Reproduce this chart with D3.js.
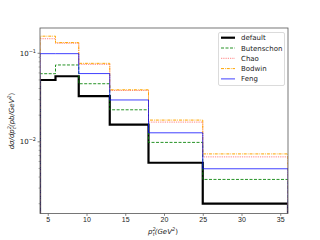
<!DOCTYPE html>
<html><head><meta charset="utf-8">
<script src="https://cdn.jsdelivr.net/npm/d3@7"></script>
<style>body{margin:0;background:#fff}svg{display:block;font-family:"DejaVu Sans",sans-serif}</style>
</head><body><svg id="c" width="320" height="240"></svg>
<script>
const edges = [4, 6, 9, 13, 18, 25, 36];
const seriesNames = ["default", "Butenschon", "Chao", "Bodwin", "Feng"];
const defaultVals = [0.0499, 0.055, 0.0329, 0.0156, 0.0058, 0.0020];
const butenschonVals = [0.0588, 0.0738, 0.0453, 0.023, 0.00985, 0.00376];
const chaoVals = [0.146, 0.130, 0.075, 0.038, 0.0167, 0.00676];
const bodwinVals = [0.156, 0.132, 0.077, 0.0387, 0.0176, 0.0073];
const fengVals = [0.099, 0.099, 0.059, 0.0297, 0.01264, 0.00496];
const xTicks = [5, 10, 15, 20, 25, 30, 35];
const yMajor = [0.1, 0.01];

const styles = [
  {color:"#000", width:2.2, dash:null, op:1},
  {color:"#008000", width:1, dash:"3,1.5", op:0.85},
  {color:"#ff0000", width:1, dash:"0.8,1", op:0.6},
  {color:"#ffa500", width:1, dash:"3,1,0.8,1", op:1},
  {color:"#0000ff", width:1, dash:null, op:0.75}
];
const allVals = [defaultVals, butenschonVals, chaoVals, bodwinVals, fengVals];

const L = 40, R = 288, T = 28, B = 213.5;
const svg = d3.select("#c");
const x = d3.scaleLinear().domain([4, 36]).range([L, R]);
const y = d3.scaleLog().domain([0.00155, 0.193]).range([B, T]);

svg.append("clipPath").attr("id","clip").append("rect")
  .attr("x", L).attr("y", T).attr("width", R-L).attr("height", B-T);

const g = svg.append("g").attr("clip-path","url(#clip)");
allVals.forEach((vals, i) => {
  const pts = [[x(edges[0]), B]];
  vals.forEach((v, k) => {
    pts.push([x(edges[k]), y(v)]);
    pts.push([x(edges[k+1]), y(v)]);
  });
  pts.push([x(edges[edges.length-1]), B]);
  const s = styles[i];
  g.append("path").attr("d", d3.line()(pts))
    .attr("fill","none").attr("stroke", s.color).attr("stroke-width", s.width)
    .attr("stroke-opacity", s.op)
    .attr("stroke-dasharray", s.dash);
});

// axes
const xAxis = d3.axisBottom(x).tickValues(xTicks).tickSize(2.4).tickPadding(1.5).tickFormat(d3.format("d"));
const gx = svg.append("g").attr("transform", `translate(0,${B})`).call(xAxis);
gx.select(".domain").remove();
gx.selectAll("line").attr("stroke","#333").attr("stroke-width",0.6);
gx.selectAll("text").attr("font-size",7).attr("fill","#222");

// y minor ticks
const minor = [];
[0.001, 0.01, 0.1].forEach(d => { for (let m = 2; m <= 9; m++) { const v = d*m; if (v >= y.domain()[0] && v <= y.domain()[1]) minor.push(v); } });
const gy = svg.append("g");
gy.selectAll("line.mi").data(minor).join("line").attr("x1", L-1.4).attr("x2", L)
  .attr("y1", d=>y(d)).attr("y2", d=>y(d)).attr("stroke","#333").attr("stroke-width",0.4);
gy.selectAll("line.ma").data(yMajor).join("line").attr("x1", L-2.4).attr("x2", L)
  .attr("y1", d=>y(d)).attr("y2", d=>y(d)).attr("stroke","#333").attr("stroke-width",0.6);
yMajor.forEach(v => {
  const t = gy.append("text").attr("x", L-4).attr("y", y(v)+2.5).attr("text-anchor","end")
    .attr("font-size",7).attr("fill","#222");
  t.append("tspan").text("10");
  t.append("tspan").attr("dy",-3).attr("font-size",5).text("−" + Math.round(-Math.log10(v)));
});

// frame
svg.append("rect").attr("x", L).attr("y", T).attr("width", R-L).attr("height", B-T)
  .attr("fill","none").attr("stroke","#555").attr("stroke-width",0.8);

// labels
const xl = svg.append("text").attr("x", 163).attr("y", 234).attr("text-anchor","middle")
  .attr("font-size",7).attr("fill","#222");
xl.append("tspan").attr("font-style","italic").text("p");
xl.append("tspan").attr("font-style","italic").attr("font-size",5).attr("dy",-3).text("2");
xl.append("tspan").attr("font-style","italic").attr("font-size",5).attr("dx",-3).attr("dy",5).text("t");
xl.append("tspan").attr("dy",-2).attr("font-style","italic").text("(GeV");
xl.append("tspan").attr("font-style","italic").attr("font-size",5).attr("dy",-3).text("2");
xl.append("tspan").attr("dy",3).text(")");

const yl = svg.append("text").attr("transform", `translate(14,121) rotate(-90)`).attr("text-anchor","middle")
  .attr("font-size",7).attr("fill","#222");
yl.append("tspan").attr("font-style","italic").text("dσ/dp");
yl.append("tspan").attr("font-style","italic").attr("font-size",5).attr("dy",-3).text("2");
yl.append("tspan").attr("font-style","italic").attr("font-size",5).attr("dx",-3).attr("dy",5).text("t");
yl.append("tspan").attr("dy",-2).attr("font-style","italic").text("(pb/GeV");
yl.append("tspan").attr("font-style","italic").attr("font-size",5).attr("dy",-3).text("2");
yl.append("tspan").attr("dy",3).text(")");

// legend
const lg = svg.append("g");
lg.append("rect").attr("x",218.5).attr("y",32.5).attr("width",66).attr("height",53).attr("rx",1.5)
  .attr("fill","#fff").attr("fill-opacity",0.8).attr("stroke","#ccc").attr("stroke-width",0.7);
seriesNames.forEach((n, i) => {
  const yy = 37.7 + i*10.3;
  const s = styles[i];
  lg.append("line").attr("x1",221).attr("x2",235).attr("y1",yy).attr("y2",yy)
    .attr("stroke", s.color).attr("stroke-width", s.width).attr("stroke-opacity", s.op)
    .attr("stroke-dasharray", s.dash);
  lg.append("text").attr("x",241).attr("y",yy+2.5).attr("font-size",7).attr("fill","#222").text(n);
});
</script></body></html>
